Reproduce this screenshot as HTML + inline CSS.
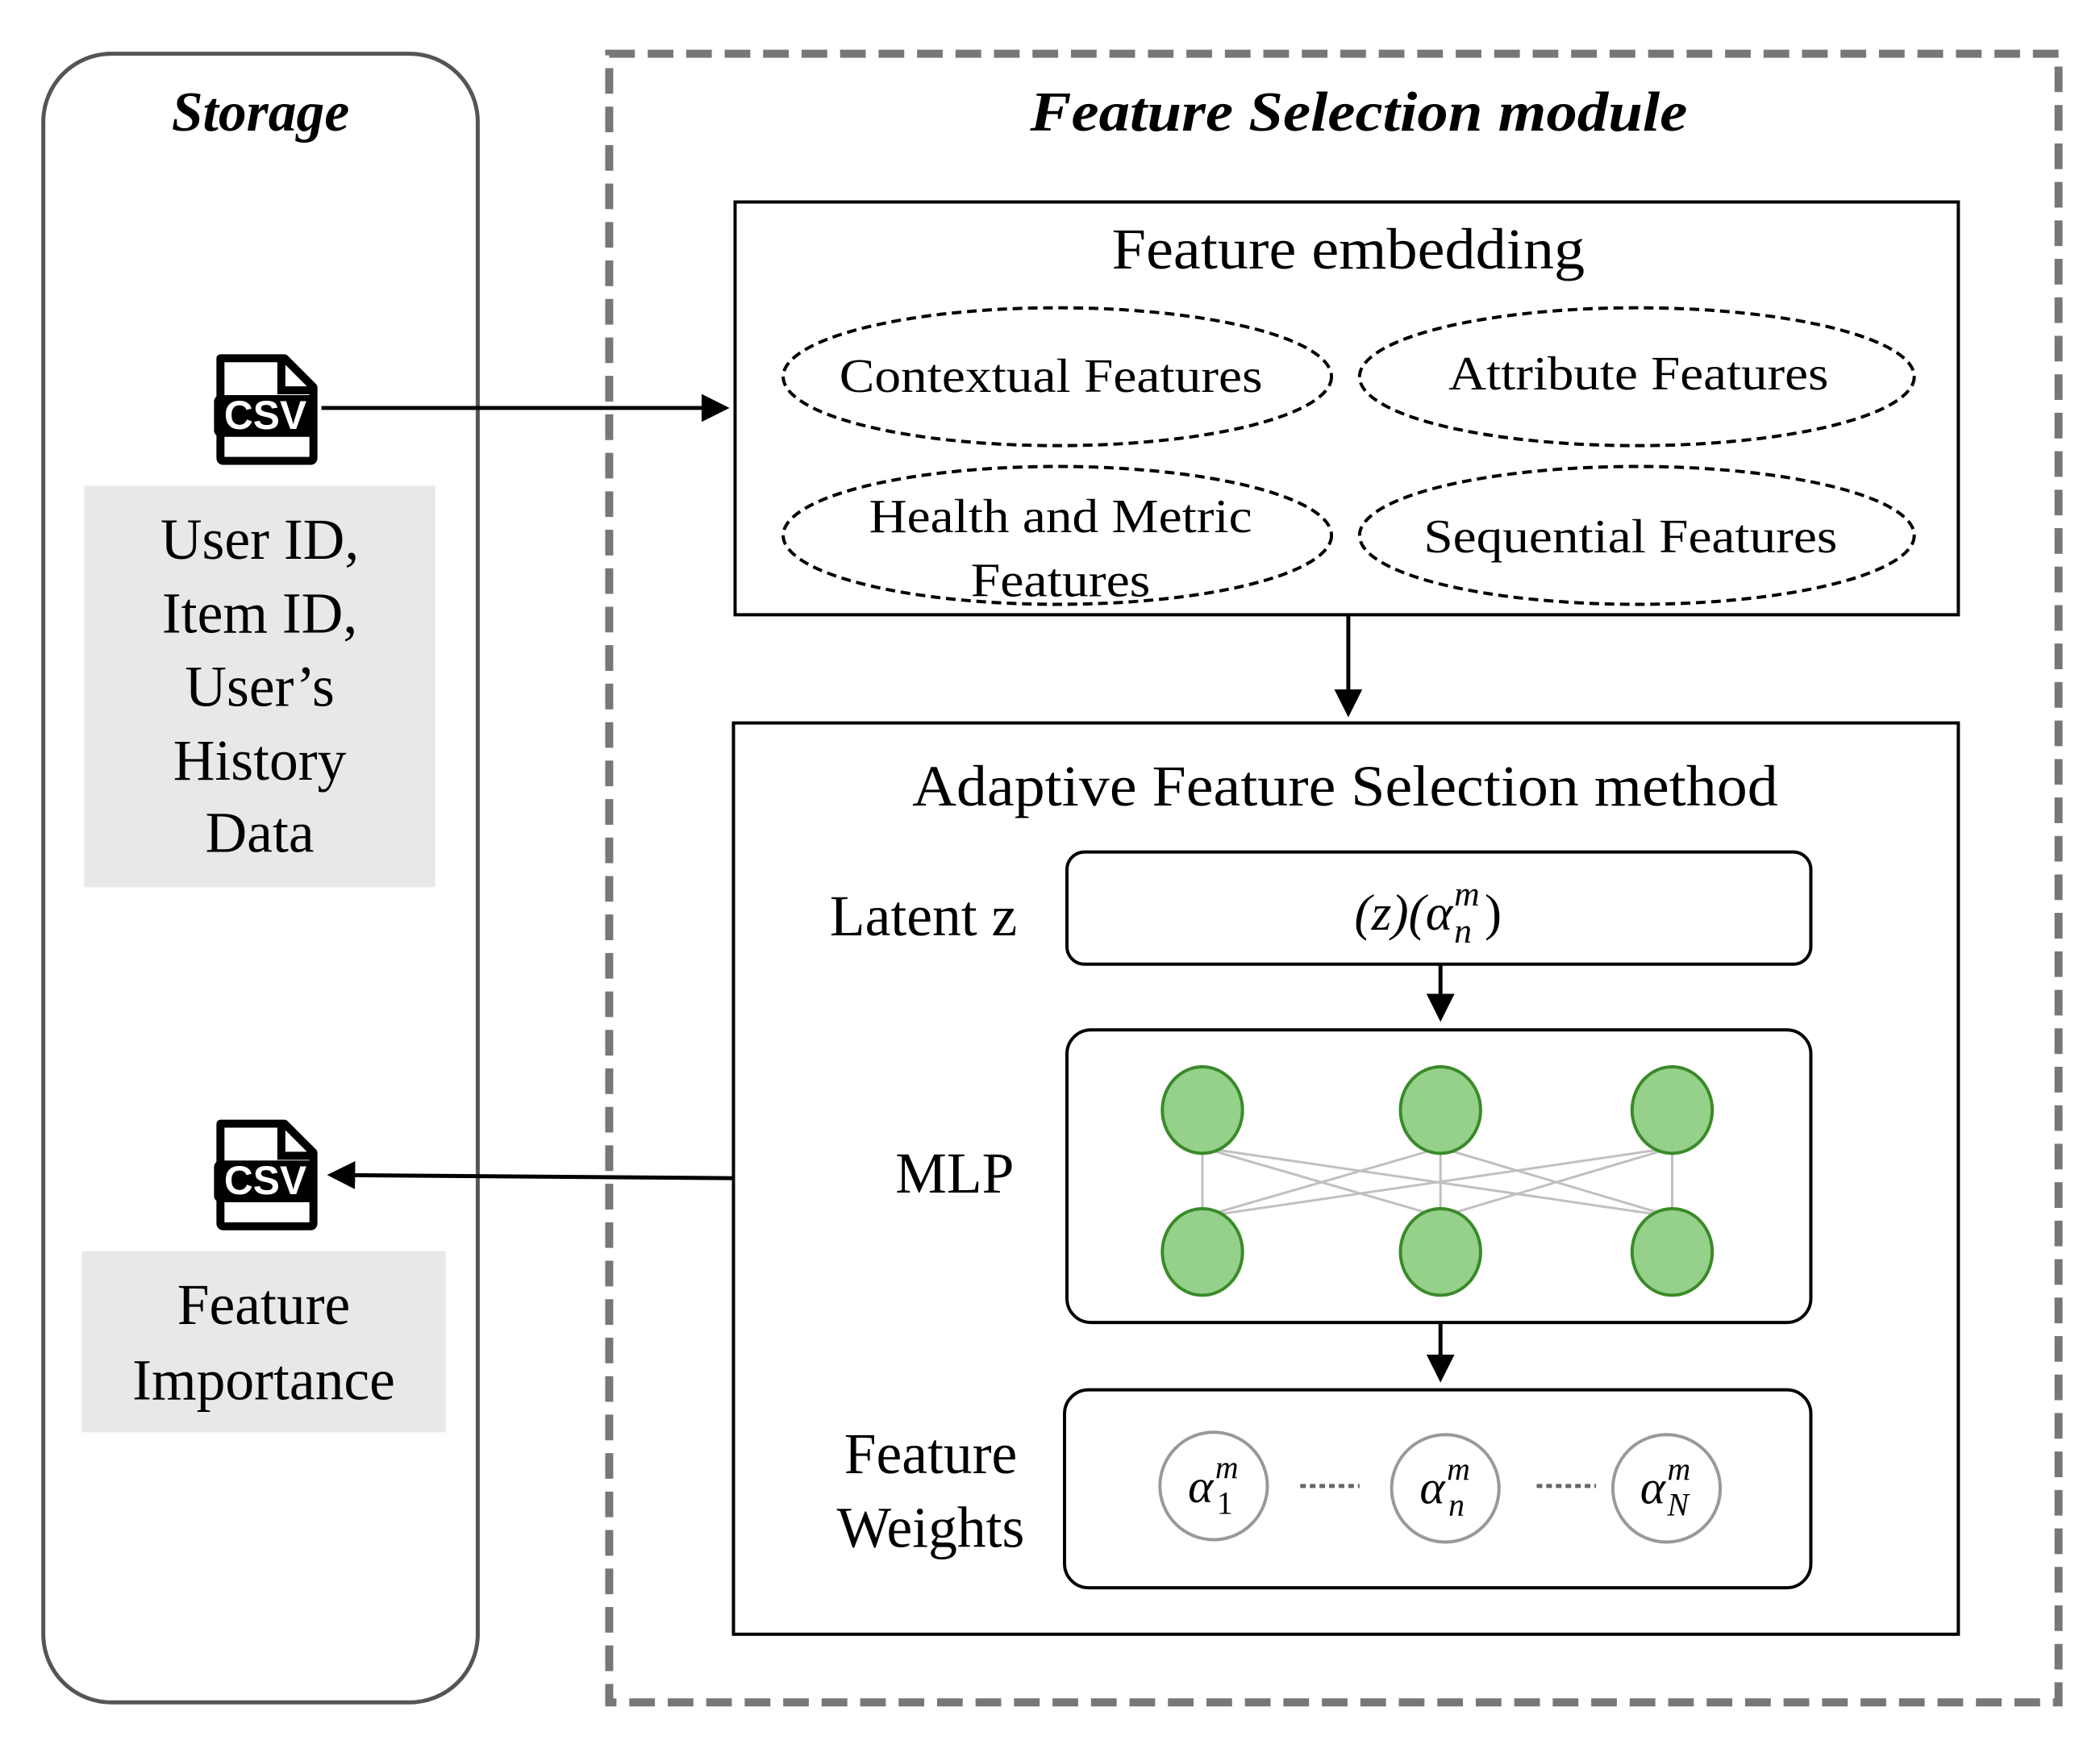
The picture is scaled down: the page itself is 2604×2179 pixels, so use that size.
<!DOCTYPE html>
<html><head><meta charset="utf-8"><style>html,body{margin:0;padding:0;background:#fff}svg{display:block}</style></head>
<body>
<svg width="2604" height="2179" viewBox="0 0 2604 2179" xmlns="http://www.w3.org/2000/svg" font-family="'Liberation Serif', serif">
<defs>
<marker id="ah" markerWidth="7" markerHeight="7" refX="6" refY="3.5" orient="auto" markerUnits="strokeWidth"><path d="M0,0 L7,3.5 L0,7 z" fill="#000"/></marker>
<g id="csv">
<path d="M8,4 H88 L124,40 V128 Q124,132 120,132 H12 Q8,132 8,128 Z" fill="#fff" stroke="#000" stroke-width="10" stroke-linejoin="round"/>
<path d="M84,4 V44 H124" fill="none" stroke="#000" stroke-width="10"/>
<rect x="0" y="50" width="128" height="52" rx="8" fill="#000"/>
<text x="64" y="92" text-anchor="middle" font-family="'Liberation Sans',sans-serif" font-weight="bold" font-size="50" fill="#fff">CSV</text>
</g>
</defs>
<g transform="scale(0.994)">
<rect x="54" y="67" width="542" height="2057" rx="85" fill="none" stroke="#555" stroke-width="5"/>
<text x="325" y="163" text-anchor="middle" font-size="70" font-style="italic" font-weight="bold">Storage</text>

<rect x="760" y="67" width="1808" height="2057" fill="none" stroke="#777" stroke-width="10" stroke-dasharray="32,16"/>
<text x="1695" y="163" text-anchor="middle" font-size="70" font-style="italic" font-weight="bold" textLength="820" lengthAdjust="spacingAndGlyphs">Feature Selection module</text>

<use href="#csv" x="267" y="443"/>
<rect x="105" y="606" width="438" height="501" fill="#e8e8e8"/>
<g font-size="72" text-anchor="middle">
<text x="324" y="697">User ID,</text>
<text x="324" y="789">Item ID,</text>
<text x="324" y="881">User’s</text>
<text x="324" y="973">History</text>
<text x="324" y="1063">Data</text>
</g>
<line x1="401" y1="509" x2="905" y2="509" stroke="#000" stroke-width="5" marker-end="url(#ah)"/>

<rect x="917" y="252" width="1526" height="515" fill="none" stroke="#000" stroke-width="4"/>
<text x="1682" y="335" text-anchor="middle" font-size="72" textLength="590" lengthAdjust="spacingAndGlyphs">Feature embedding</text>
<g fill="none" stroke="#000" stroke-width="4" stroke-dasharray="12,7">
<ellipse cx="1319" cy="470" rx="342" ry="86"/>
<ellipse cx="2042" cy="470" rx="346" ry="86"/>
<ellipse cx="1319" cy="668" rx="342" ry="86"/>
<ellipse cx="2042" cy="668" rx="346" ry="86"/>
</g>
<g font-size="60" text-anchor="middle">
<text x="1311" y="489" textLength="528" lengthAdjust="spacingAndGlyphs">Contextual Features</text>
<text x="2044" y="486" textLength="474" lengthAdjust="spacingAndGlyphs">Attribute Features</text>
<text x="1323" y="664" textLength="478" lengthAdjust="spacingAndGlyphs">Health and Metric</text>
<text x="1323" y="744" textLength="224" lengthAdjust="spacingAndGlyphs">Features</text>
<text x="2034" y="689" textLength="516" lengthAdjust="spacingAndGlyphs">Sequential Features</text>
</g>
<line x1="1682" y1="767" x2="1682" y2="890" stroke="#000" stroke-width="5" marker-end="url(#ah)"/>

<rect x="915" y="902" width="1528" height="1137" fill="none" stroke="#000" stroke-width="4"/>
<text x="1678" y="1005" text-anchor="middle" font-size="72" textLength="1080" lengthAdjust="spacingAndGlyphs">Adaptive Feature Selection method</text>

<text x="1152" y="1167" text-anchor="middle" font-size="72">Latent z</text>
<rect x="1331" y="1063" width="928" height="140" rx="22" fill="none" stroke="#000" stroke-width="4"/>
<text x="1812" y="1160" text-anchor="end" font-size="64" font-style="italic">(z)(α</text>
<text x="1814" y="1130" font-size="44" font-style="italic">m</text>
<text x="1814" y="1176" font-size="44" font-style="italic">n</text>
<text x="1852" y="1160" font-size="64">)</text>
<line x1="1797" y1="1203" x2="1797" y2="1270" stroke="#000" stroke-width="5" marker-end="url(#ah)"/>

<text x="1191" y="1488" text-anchor="middle" font-size="72">MLP</text>
<rect x="1331" y="1285" width="928" height="365" rx="30" fill="none" stroke="#000" stroke-width="4"/>
<g stroke="#c0c0c0" stroke-width="3">
<line x1="1500" y1="1432" x2="1500" y2="1518"/><line x1="1500" y1="1432" x2="1797" y2="1518"/><line x1="1500" y1="1432" x2="2086" y2="1518"/>
<line x1="1797" y1="1432" x2="1500" y2="1518"/><line x1="1797" y1="1432" x2="1797" y2="1518"/><line x1="1797" y1="1432" x2="2086" y2="1518"/>
<line x1="2086" y1="1432" x2="1500" y2="1518"/><line x1="2086" y1="1432" x2="1797" y2="1518"/><line x1="2086" y1="1432" x2="2086" y2="1518"/>
</g>
<g fill="#95d18a" stroke="#3a8a2a" stroke-width="4">
<ellipse cx="1500" cy="1385" rx="50" ry="54"/><ellipse cx="1797" cy="1385" rx="50" ry="54"/><ellipse cx="2086" cy="1385" rx="50" ry="54"/>
<ellipse cx="1500" cy="1562" rx="50" ry="54"/><ellipse cx="1797" cy="1562" rx="50" ry="54"/><ellipse cx="2086" cy="1562" rx="50" ry="54"/>
</g>
<line x1="1797" y1="1650" x2="1797" y2="1720" stroke="#000" stroke-width="5" marker-end="url(#ah)"/>

<text x="1161" y="1838" text-anchor="middle" font-size="72">Feature</text>
<text x="1161" y="1930" text-anchor="middle" font-size="72">Weights</text>
<g transform="translate(0,-16)">
<rect x="1328" y="1750" width="931" height="247" rx="30" fill="none" stroke="#000" stroke-width="4"/>
<g fill="#fff" stroke="#999" stroke-width="4">
<circle cx="1514" cy="1870" r="67"/><circle cx="1803" cy="1873" r="67"/><circle cx="2079" cy="1873" r="67"/>
</g>
<g stroke="#666" stroke-width="5" stroke-dasharray="7,5">
<line x1="1622" y1="1870" x2="1696" y2="1870"/><line x1="1917" y1="1870" x2="1991" y2="1870"/>
</g>
<g font-size="60" font-style="italic">
<text x="1482" y="1890">α</text><text x="1516" y="1860" font-size="40">m</text><text x="1518" y="1905" font-size="40" font-style="normal">1</text>
<text x="1771" y="1892">α</text><text x="1805" y="1862" font-size="40">m</text><text x="1807" y="1907" font-size="40">n</text>
<text x="2046" y="1892">α</text><text x="2080" y="1862" font-size="40">m</text><text x="2080" y="1907" font-size="40">N</text>
</g>
</g>

<line x1="915" y1="1470" x2="413" y2="1466" stroke="#000" stroke-width="5" marker-end="url(#ah)"/>
<use href="#csv" x="267" y="1398"/>
<rect x="102" y="1561" width="454" height="226" fill="#e8e8e8"/>
<text x="329" y="1652" text-anchor="middle" font-size="72">Feature</text>
<text x="329" y="1746" text-anchor="middle" font-size="72">Importance</text>
</g>
</svg>
</body></html>
